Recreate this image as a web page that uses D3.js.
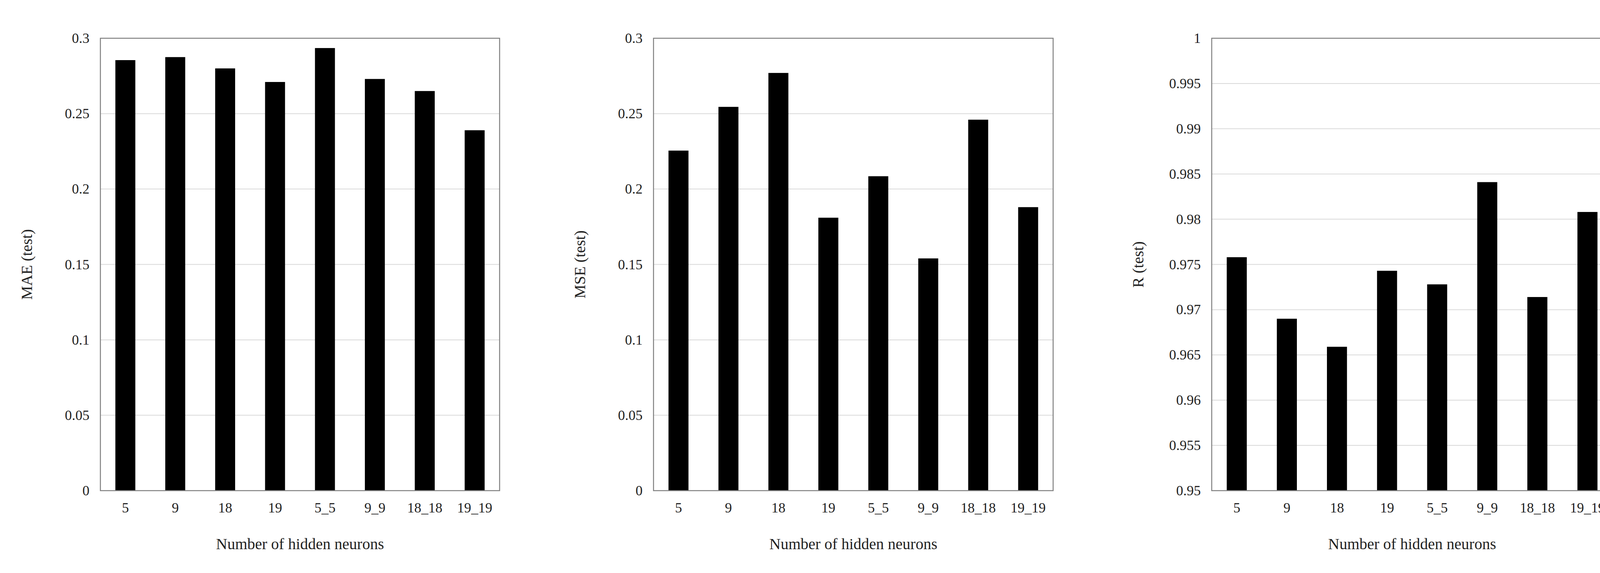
<!DOCTYPE html>
<html>
<head>
<meta charset="utf-8">
<script src="https://cdn.jsdelivr.net/npm/d3@7"></script>
<style>
  body { margin: 0; background: #fff; }
  text { font-family: "Liberation Serif", "DejaVu Serif", serif; fill: #222; }
</style>
</head>
<body>
<svg id="chart" width="4248" height="1468"></svg>
<script>
const categories = ['5', '9', '18', '19', '5_5', '9_9', '18_18', '19_19'];
const maeValues = [0.2855, 0.2875, 0.280, 0.271, 0.2935, 0.273, 0.265, 0.239];
const mseValues = [0.2255, 0.2545, 0.277, 0.181, 0.2085, 0.154, 0.246, 0.188];
const rValues = [0.9758, 0.9690, 0.9659, 0.9743, 0.9728, 0.9841, 0.9714, 0.9808];
const maeTicks = [0, 0.05, 0.1, 0.15, 0.2, 0.25, 0.3];
const rTicks = [0.95, 0.955, 0.96, 0.965, 0.97, 0.975, 0.98, 0.985, 0.99, 0.995, 1];

const svg = d3.select('#chart');
const plotTop = 98, plotBottom = 1257;

function drawPanel(left, right, values, domain, ticks, label) {
    const x = d3.scaleBand().domain(categories).range([left, right]).paddingInner(0.6).paddingOuter(0.3);
    const y = d3.scaleLinear().domain(domain).range([plotBottom, plotTop]);
    const g = svg.append('g');

    // gridlines
    g.selectAll('.grid').data(ticks).enter().append('line')
        .attr('x1', left).attr('x2', right)
        .attr('y1', d => y(d)).attr('y2', d => y(d))
        .attr('stroke', '#d9d9d9').attr('stroke-width', 2);

    g.selectAll('.bar').data(values).enter().append('rect')
        .attr('x', (d, i) => x(categories[i]))
        .attr('width', x.bandwidth())
        .attr('y', d => y(d))
        .attr('height', d => plotBottom - y(d))
        .attr('fill', '#000');

    g.append('rect')
        .attr('x', left).attr('y', plotTop)
        .attr('width', right - left).attr('height', plotBottom - plotTop)
        .attr('fill', 'none').attr('stroke', '#7f7f7f').attr('stroke-width', 2.5);

    const yAxis = g.append('g').attr('transform', `translate(${left},0)`)
        .call(d3.axisLeft(y).tickValues(ticks).tickSize(0).tickPadding(28).tickFormat(d3.format('')));
    yAxis.select('.domain').remove();
    yAxis.selectAll('text').attr('font-size', 36);

    const xAxis = g.append('g').attr('transform', `translate(0,${plotBottom})`)
        .call(d3.axisBottom(x).tickSize(0).tickPadding(30));
    xAxis.select('.domain').remove();
    xAxis.selectAll('text').attr('font-size', 36);

    g.append('text')
        .attr('x', (left + right) / 2).attr('y', plotBottom + 150)
        .attr('text-anchor', 'middle').attr('font-size', 40)
        .text('Number of hidden neurons');

    g.append('text')
        .attr('transform', `translate(${left - 175},${(plotTop + plotBottom) / 2}) rotate(-90)`)
        .attr('text-anchor', 'middle').attr('font-size', 40)
        .text(label);
}

drawPanel(257, 1279, maeValues, [0, 0.3], maeTicks, 'MAE (test)');
drawPanel(1673, 2696, mseValues, [0, 0.3], maeTicks, 'MSE (test)');
drawPanel(3102, 4128, rValues, [0.95, 1], rTicks, 'R (test)');
</script>
</body>
</html>
